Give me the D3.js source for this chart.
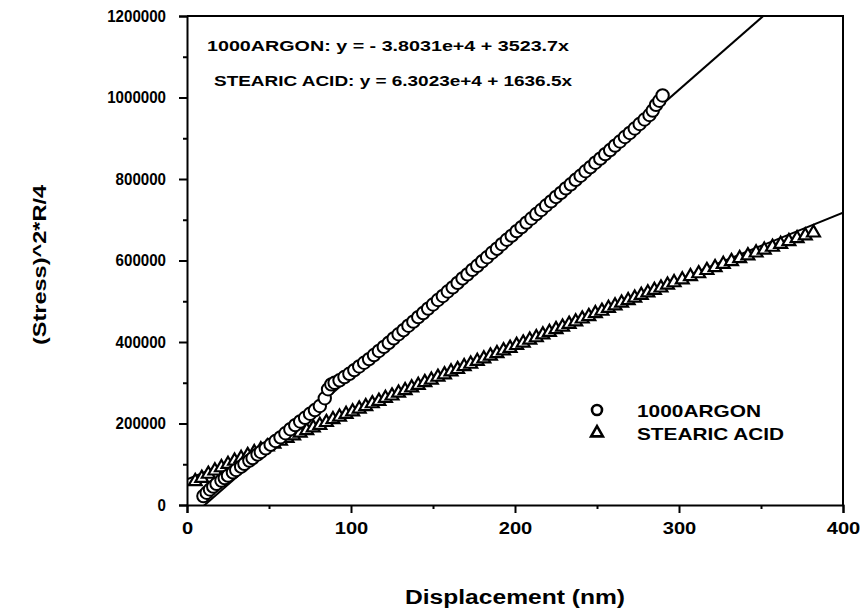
<!DOCTYPE html>
<html>
<head>
<meta charset="utf-8">
<script src="https://cdn.jsdelivr.net/npm/d3@7/dist/d3.min.js"></script>
<style>
  html, body { margin: 0; padding: 0; background: #fff; }
  svg { display: block; }
  text { font-family: "Liberation Sans", Arial, Helvetica, sans-serif; font-weight: bold; fill: #000; }
</style>
</head>
<body>
<svg id="chart" width="868" height="614"></svg>
<script>
// Displacement (nm) for the 1000ARGON run
const argonX = [10, 12, 14, 16, 18, 21, 23, 25, 28, 30, 33, 35, 38, 40, 43, 45, 48, 51, 54, 57,
  60, 63, 66, 69, 72, 75, 78, 81, 84, 86, 88, 90, 93, 96, 99, 102, 105, 108, 111, 114,
  117, 120, 123, 126, 129, 132, 135, 138, 141, 144, 147, 150, 153, 156, 159, 162, 165, 168, 171, 174,
  177, 180, 183, 186, 189, 192, 195, 198, 201, 204, 207, 210, 213, 216, 219, 222, 225, 228, 231, 234,
  237, 240, 243, 246, 249, 252, 255, 258, 261, 264, 267, 270, 273, 276, 279, 282, 284, 286, 288, 290];
// (Stress)^2*R/4 for the 1000ARGON run
const argonY = [22000, 30000, 38000, 45000, 52000, 60000, 66000, 72000, 80000, 86000, 94000, 101000, 109000, 115000, 124000, 130000, 139000, 148000, 157000, 166000,
  176000, 186000, 196000, 205000, 214000, 224000, 233000, 243000, 262000, 284000, 296000, 300000, 306000, 314000, 322000, 331000, 340000, 349000, 358000, 368000,
  378000, 388000, 398000, 409000, 419000, 429000, 440000, 450000, 461000, 471000, 482000, 492000, 503000, 513000, 524000, 534000, 545000, 556000, 566000, 577000,
  587000, 598000, 608000, 619000, 629000, 640000, 651000, 661000, 672000, 682000, 693000, 703000, 714000, 724000, 735000, 745000, 756000, 766000, 777000, 787000,
  798000, 808000, 819000, 829000, 840000, 850000, 861000, 871000, 882000, 892000, 903000, 913000, 924000, 935000, 946000, 957000, 968000, 982000, 992000, 1005000];

// Displacement (nm) for the STEARIC ACID run
const stearicX = [5, 9, 13, 17, 21, 25, 29, 33, 37, 41, 45, 49, 53, 57, 61, 65, 69, 73, 77, 81,
  85, 89, 93, 97, 101, 105, 109, 113, 117, 121, 125, 129, 133, 137, 141, 145, 149, 153, 157, 161,
  165, 169, 173, 177, 181, 185, 189, 193, 197, 201, 205, 209, 213, 217, 221, 225, 229, 233, 237, 241,
  245, 249, 253, 257, 261, 265, 269, 273, 277, 281, 285, 289, 293, 297, 302, 307, 312, 317, 322, 327,
  332, 337, 342, 347, 352, 357, 362, 367, 372, 377, 382];
// (Stress)^2*R/4 for the STEARIC ACID run
const stearicY = [58000, 66000, 76000, 84000, 92000, 100000, 108000, 115000, 122000, 129000, 136000, 143000, 150000, 157000, 164000, 170000, 177000, 183000, 190000, 196000,
  203000, 210000, 216000, 223000, 229000, 236000, 242000, 249000, 255000, 262000, 268000, 275000, 281000, 288000, 294000, 301000, 307000, 314000, 320000, 327000,
  333000, 340000, 346000, 353000, 359000, 366000, 372000, 379000, 385000, 392000, 398000, 405000, 411000, 418000, 424000, 431000, 437000, 444000, 450000, 457000,
  463000, 470000, 476000, 483000, 489000, 496000, 502000, 508000, 515000, 521000, 527000, 533000, 540000, 546000, 553000, 561000, 568000, 576000, 583000, 591000,
  598000, 605000, 612000, 619000, 626000, 633000, 640000, 647000, 654000, 661000, 668000];

// Linear fits: intercept and slope
const argonFit = { intercept: -3.8031e4, slope: 3523.7 };
const stearicFit = { intercept: 6.3023e4, slope: 1636.5 };

const xTicks = [0, 100, 200, 300, 400];
const xMinorTicks = [50, 150, 250, 350];
const yTicks = [0, 200000, 400000, 600000, 800000, 1000000, 1200000];
const yMinorTicks = [100000, 300000, 500000, 700000, 900000, 1100000];

const seriesNames = ["1000ARGON", "STEARIC ACID"];
const equationLabels = [
  "1000ARGON: y =  - 3.8031e+4 + 3523.7x",
  "STEARIC ACID: y = 6.3023e+4 + 1636.5x"
];

const plotLeft = 187, plotRight = 843, plotTop = 16, plotBottom = 505;
const svg = d3.select("#chart");

const x = d3.scaleLinear().domain([0, 400]).range([plotLeft, plotRight]);
const y = d3.scaleLinear().domain([0, 1200000]).range([plotBottom, plotTop]);

svg.append("defs").append("clipPath").attr("id", "plotClip")
  .append("rect").attr("x", plotLeft).attr("y", plotTop)
  .attr("width", plotRight - plotLeft).attr("height", plotBottom - plotTop);

// frame (top and right)
svg.append("path")
  .attr("d", `M${plotLeft},${plotTop}H${plotRight}V${plotBottom}`)
  .attr("fill", "none").attr("stroke", "#000").attr("stroke-width", 2);

// x axis
const xAxisG = svg.append("g").attr("transform", `translate(0,${plotBottom})`)
  .call(d3.axisBottom(x).tickValues(xTicks).tickSize(8).tickPadding(9).tickFormat(d3.format("d")));
svg.append("g").attr("transform", `translate(0,${plotBottom})`)
  .call(d3.axisBottom(x).tickValues(xMinorTicks).tickSize(4).tickFormat(""))
  .call(g => g.select(".domain").remove());

// y axis
const yAxisG = svg.append("g").attr("transform", `translate(${plotLeft},0)`)
  .call(d3.axisLeft(y).tickValues(yTicks).tickSize(8).tickPadding(13).tickFormat(d3.format("d")));
svg.append("g").attr("transform", `translate(${plotLeft},0)`)
  .call(d3.axisLeft(y).tickValues(yMinorTicks).tickSize(4).tickFormat(""))
  .call(g => g.select(".domain").remove());

svg.selectAll(".domain").attr("stroke-width", 2).attr("stroke", "#000");
svg.selectAll(".tick line").attr("stroke-width", 2).attr("stroke", "#000");
[xAxisG, yAxisG].forEach(g => g.attr("font-family", null).attr("font-size", null));
yAxisG.selectAll(".tick text")
  .attr("font-size", 16).style("font-size", "16px").style("font-weight", "bold")
  .attr("textLength", d => 8.4 * String(d).length).attr("lengthAdjust", "spacingAndGlyphs");
xAxisG.selectAll(".tick text")
  .attr("font-size", 17).style("font-size", "17px").style("font-weight", "bold")
  .attr("textLength", d => 11.2 * String(d).length).attr("lengthAdjust", "spacingAndGlyphs");

// fit lines
const plot = svg.append("g").attr("clip-path", "url(#plotClip)");
[argonFit, stearicFit].forEach(f => {
  plot.append("line")
    .attr("x1", x(0)).attr("y1", y(f.intercept))
    .attr("x2", x(400)).attr("y2", y(f.intercept + f.slope * 400))
    .attr("stroke", "#000").attr("stroke-width", 2);
});

// data markers
const argonData = argonX.map((d, i) => [d, argonY[i]]);
const stearicData = stearicX.map((d, i) => [d, stearicY[i]]);
const triSym = d3.symbol().type(d3.symbolTriangle).size(72);

plot.selectAll("path.stearic").data(stearicData).join("path")
  .attr("class", "stearic")
  .attr("transform", d => `translate(${x(d[0])},${y(d[1])})`)
  .attr("d", triSym)
  .attr("fill", "#fff").attr("stroke", "#000").attr("stroke-width", 2.2);

plot.selectAll("circle.argon").data(argonData).join("circle")
  .attr("class", "argon")
  .attr("cx", d => x(d[0])).attr("cy", d => y(d[1])).attr("r", 6.2)
  .attr("fill", "#fff").attr("stroke", "#000").attr("stroke-width", 2);

// fit equations
svg.append("text").attr("x", 207).attr("y", 51).style("font-size", "15px")
  .attr("textLength", 362).attr("lengthAdjust", "spacingAndGlyphs").text(equationLabels[0]);
svg.append("text").attr("x", 214).attr("y", 86).style("font-size", "15px")
  .attr("textLength", 358).attr("lengthAdjust", "spacingAndGlyphs").text(equationLabels[1]);

// legend
const legend = svg.append("g");
legend.append("circle").attr("cx", 597).attr("cy", 410).attr("r", 5)
  .attr("fill", "#fff").attr("stroke", "#000").attr("stroke-width", 2.6);
legend.append("path").attr("transform", "translate(597,433)")
  .attr("d", d3.symbol().type(d3.symbolTriangle).size(60))
  .attr("fill", "#fff").attr("stroke", "#000").attr("stroke-width", 2.6);
legend.append("text").attr("x", 637).attr("y", 417).style("font-size", "17px")
  .attr("textLength", 124).attr("lengthAdjust", "spacingAndGlyphs").text(seriesNames[0]);
legend.append("text").attr("x", 637).attr("y", 440).style("font-size", "17px")
  .attr("textLength", 147).attr("lengthAdjust", "spacingAndGlyphs").text(seriesNames[1]);

// axis titles
svg.append("text").attr("x", 515).attr("y", 604).attr("text-anchor", "middle")
  .style("font-size", "20px").attr("textLength", 220).attr("lengthAdjust", "spacingAndGlyphs")
  .text("Displacement (nm)");
svg.append("text").attr("transform", "translate(46,265) rotate(-90)").attr("text-anchor", "middle")
  .style("font-size", "18px").attr("textLength", 160).attr("lengthAdjust", "spacingAndGlyphs")
  .text("(Stress)^2*R/4");
</script>
</body>
</html>
